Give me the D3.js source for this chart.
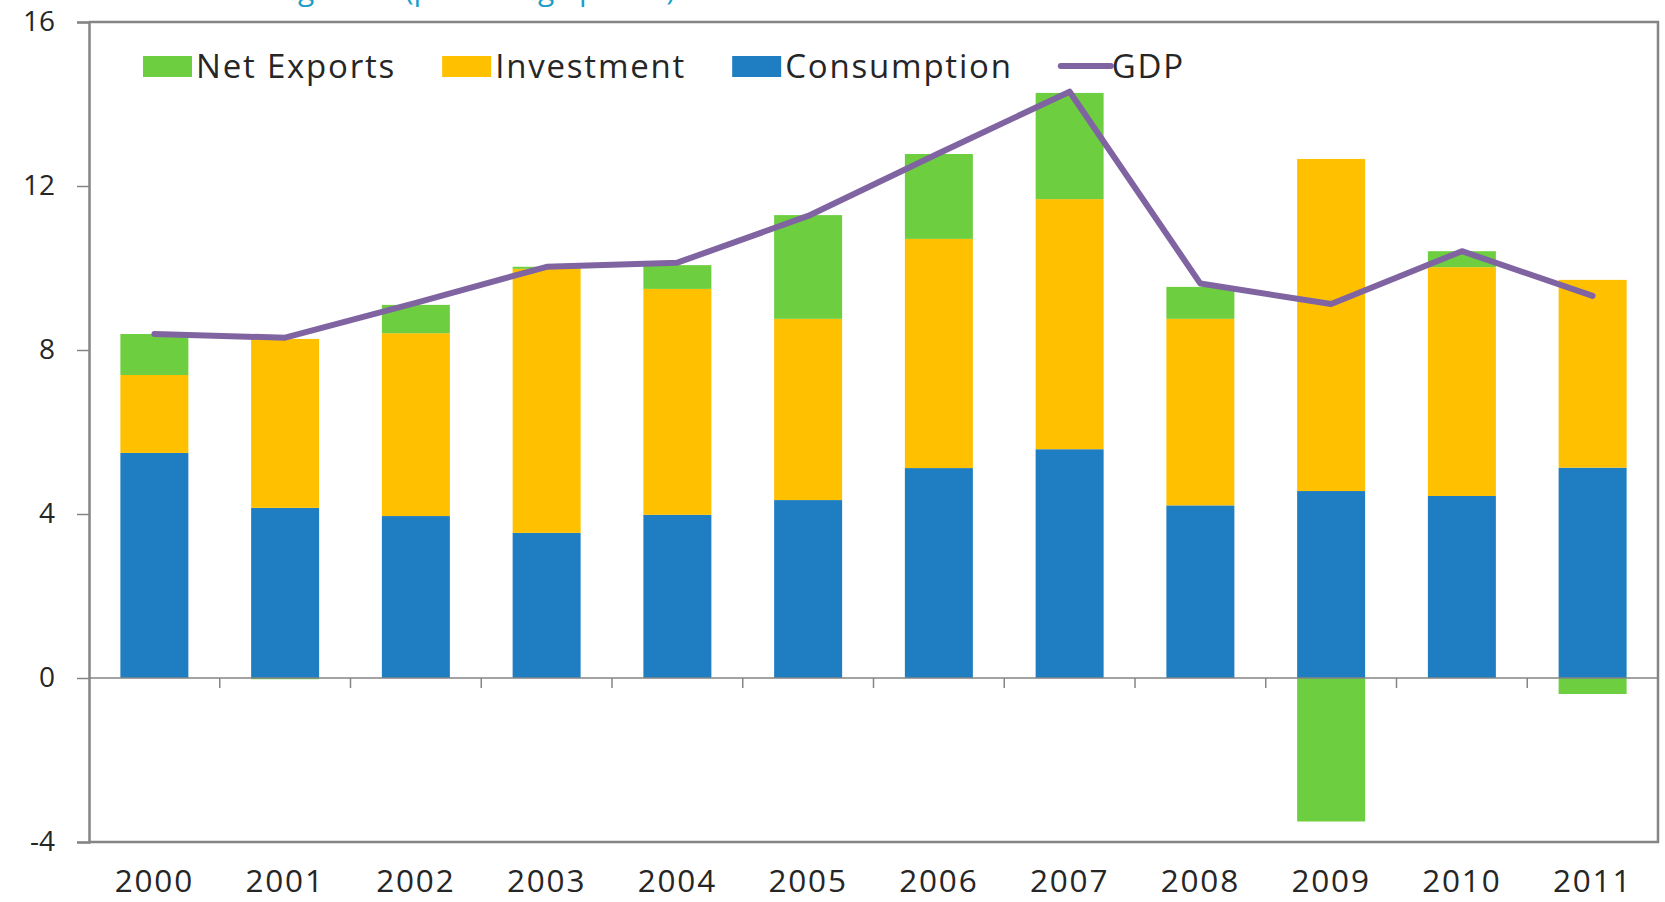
<!DOCTYPE html>
<html>
<head>
<meta charset="utf-8">
<script src="https://cdn.jsdelivr.net/npm/d3@7"></script>
<style>
  body { margin: 0; background: #fff; }
  text { font-family: "Open Sans", "Noto Sans", sans-serif; fill: #262626; }
</style>
</head>
<body>
<div id="chart-area"></div>
<script>
// data (percentage points)
var years = ["2000", "2001", "2002", "2003", "2004", "2005", "2006", "2007", "2008", "2009", "2010", "2011"];
var consumption = [5.49, 4.15, 3.95, 3.54, 3.98, 4.34, 5.12, 5.58, 4.21, 4.56, 4.44, 5.13];
var investment = [1.90, 4.12, 4.46, 6.44, 5.51, 4.42, 5.59, 6.10, 4.55, 8.10, 5.58, 4.58];
var netExports = [1.00, -0.03, 0.69, 0.05, 0.58, 2.53, 2.07, 2.59, 0.78, -3.50, 0.39, -0.39];
var gdp = [8.39, 8.30, 9.15, 10.03, 10.13, 11.27, 12.80, 14.30, 9.62, 9.12, 10.41, 9.32];
var yTicks = [-4, 0, 4, 8, 12, 16];
var title = "Contributions to growth (percentage points)";

var colors = { nx: "#6dcf3f", inv: "#ffc000", cons: "#1f7ec2", gdp: "#8064a2" };

var W = 1665, H = 902;
// plot box edges in pixels
var box = { left: 89, right: 1658, top: 22, bottom: 842 };

var svg = d3.select("#chart-area").append("svg")
    .attr("width", W)
    .attr("height", H);

// table for the stack
var rows = years.map(function (yr, i) {
    return { year: yr, cons: consumption[i], inv: investment[i], nx: netExports[i], gdp: gdp[i] };
});

var y = d3.scaleLinear().domain([-4, 16]).range([box.bottom, box.top]);

var x = d3.scaleBand()
    .domain(years)
    .range([box.left, box.right])
    .paddingInner(0.48)
    .paddingOuter(0.24);

// title, cut by the top edge as in the source
svg.append("text")
    .attr("x", 62)
    .attr("y", 0)
    .style("fill", "#1a9fc9")
    .style("font-size", "30px")
    .text(title);

// bars
var stack = d3.stack()
    .keys(["cons", "inv", "nx"])
    .offset(d3.stackOffsetDiverging);

var series = stack(rows);

svg.append("g").selectAll("g")
    .data(series)
    .enter()
    .append("g")
    .attr("fill", function (d) { return colors[d.key]; })
    .selectAll("rect")
    .data(function (d) { return d; })
    .enter()
    .append("rect")
    .attr("x", function (d) { return x(d.data.year); })
    .attr("width", x.bandwidth())
    .attr("y", function (d) { return y(d[1]); })
    .attr("height", function (d) { return y(d[0]) - y(d[1]); });

// frame (top, right, bottom)
svg.append("path")
    .attr("d", "M" + box.left + "," + box.top + "H" + box.right + "V" + box.bottom + "H" + box.left)
    .attr("fill", "none")
    .attr("stroke", "#858585")
    .attr("stroke-width", 2.5);

// zero line with category ticks
svg.append("line")
    .attr("x1", box.left).attr("x2", box.right)
    .attr("y1", y(0)).attr("y2", y(0))
    .attr("stroke", "#858585")
    .attr("stroke-width", 1.5);

svg.append("g").selectAll("line")
    .data(years.slice(1))
    .enter()
    .append("line")
    .attr("x1", function (d) { return x(d) - x.step() * x.paddingInner() / 2; })
    .attr("x2", function (d) { return x(d) - x.step() * x.paddingInner() / 2; })
    .attr("y1", y(0))
    .attr("y2", y(0) + 10)
    .attr("stroke", "#858585")
    .attr("stroke-width", 1.5);

// y axis
var yAxisCall = d3.axisLeft(y)
    .tickValues(yTicks)
    .tickFormat(function (d) { return String(d); })
    .tickSize(12)
    .tickPadding(22);

var yAxis = svg.append("g")
    .attr("transform", "translate(" + box.left + ",0)")
    .call(yAxisCall);
yAxis.select(".domain").attr("stroke", "#858585").attr("stroke-width", 2.5);
yAxis.selectAll(".tick line").attr("stroke", "#858585").attr("stroke-width", 1.5);
yAxis.selectAll(".tick text")
    .style("font-size", "28px")
    .style("font-family", "'Open Sans', sans-serif")
    .attr("fill", "#262626");

// x labels
var xAxisCall = d3.axisBottom(x).tickSize(0).tickPadding(28);
var xAxis = svg.append("g")
    .attr("transform", "translate(0," + box.bottom + ")")
    .call(xAxisCall);
xAxis.select(".domain").remove();
xAxis.selectAll(".tick text")
    .style("font-size", "31.5px")
    .style("font-family", "'Open Sans', sans-serif")
    .style("letter-spacing", "1.8px")
    .attr("fill", "#262626");

// GDP line
var line = d3.line()
    .x(function (d) { return x(d.year) + x.bandwidth() / 2; })
    .y(function (d) { return y(d.gdp); });

svg.append("path")
    .datum(rows)
    .attr("d", line)
    .attr("fill", "none")
    .attr("stroke", colors.gdp)
    .attr("stroke-width", 6)
    .attr("stroke-linejoin", "round")
    .attr("stroke-linecap", "round");

// legend
var legendItems = [
    { label: "Net Exports", key: "nx", type: "box" },
    { label: "Investment", key: "inv", type: "box" },
    { label: "Consumption", key: "cons", type: "box" },
    { label: "GDP", key: "gdp", type: "line" }
];

var lx = 143, ly = 66;
legendItems.forEach(function (item) {
    var g = svg.append("g");
    if (item.type === "box") {
        g.append("rect")
            .attr("x", lx).attr("y", ly - 10)
            .attr("width", 49).attr("height", 21)
            .attr("fill", colors[item.key]);
    } else {
        g.append("line")
            .attr("x1", lx + 2).attr("x2", lx + 52)
            .attr("y1", ly).attr("y2", ly)
            .attr("stroke", colors[item.key])
            .attr("stroke-width", 6)
            .attr("stroke-linecap", "round");
    }
    var t = g.append("text")
        .attr("x", lx + 53)
        .attr("y", ly + 12)
        .style("font-size", "33px")
        .style("letter-spacing", "1.8px")
        .text(item.label);
    lx = lx + 53 + t.node().getComputedTextLength() + 46;
});
</script>
</body>
</html>
